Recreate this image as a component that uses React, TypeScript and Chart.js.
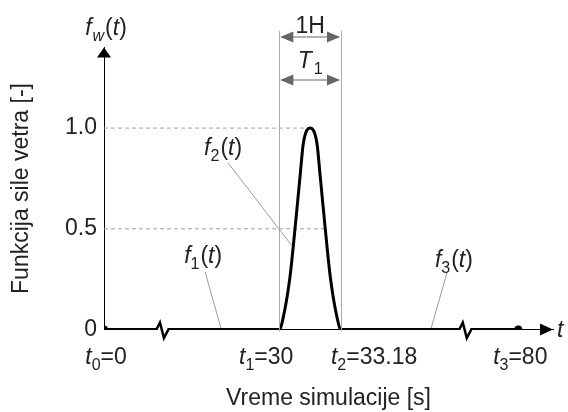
import React, { useEffect, useRef } from 'react';
import { Chart, registerables, LinearScale } from 'chart.js';

const FONT = 'Arial, "Liberation Sans", Helvetica, sans-serif';
const TEXT = '#222';
const FS = 23;

// Wind load function f_w(t): time (s) and value (-)
const T_POINTS = [0, 30, 30.21, 30.55, 30.81, 31.07, 31.24, 31.59, 31.94, 32.11, 32.37, 32.63, 32.97, 33.18, 80];
const F_POINTS = [0, 0, 0.063, 0.26, 0.5, 0.76, 0.925, 1.0, 0.925, 0.76, 0.5, 0.26, 0.063, 0, 0];

// x ticks: t0..t3
const X_TICKS = [0, 30, 33.18, 80];
const X_TICK_INDEX = ['0', '1', '2', '3'];
const X_TICK_TEXT = ['0', '30', '33.18', '80'];

// y ticks
const Y_TICKS = [0, 0.5, 1.0];
const Y_TICK_LABELS = ['0', '0.5', '1.0'];

// dashed reference levels and where they end (t)
const REF_LEVELS = [1.0, 0.5];
const REF_END_T = [31.59, 32.37];

// axis break marks (t)
const AXIS_BREAKS_T = [10, 66];

// segment labels f1, f2, f3 with leader end points on the curve
const SEGMENT_NAMES = ['1', '2', '3'];
const SEGMENT_LEADER_T = [20, 30.64, 57];
const SEGMENT_LEADER_F = [0, 0.41, 0];

// pulse duration label
const PULSE_LABEL = '1H';

// broken axis layout (value -> fraction of axis length)
const BREAK_T = [0, 30, 33.18, 80, 90];
const BREAK_POS = [0, 0.3904, 0.5278, 0.9227, 1];

function toDecimal(v: number): number {
  const n = BREAK_T.length;
  for (let i = 1; i < n; i++) {
    if (v <= BREAK_T[i] || i === n - 1) {
      const a = BREAK_T[i - 1], b = BREAK_T[i];
      return BREAK_POS[i - 1] + ((v - a) / (b - a)) * (BREAK_POS[i] - BREAK_POS[i - 1]);
    }
  }
  return 0;
}
function fromDecimal(d: number): number {
  const n = BREAK_POS.length;
  for (let i = 1; i < n; i++) {
    if (d <= BREAK_POS[i] || i === n - 1) {
      const a = BREAK_POS[i - 1], b = BREAK_POS[i];
      return BREAK_T[i - 1] + ((d - a) / (b - a)) * (BREAK_T[i] - BREAK_T[i - 1]);
    }
  }
  return 0;
}

class BrokenScale extends LinearScale {
  static id = 'broken';
  static defaults = LinearScale.defaults;
  getPixelForValue(value: number) {
    if (value === null || value === undefined) return NaN;
    return this.getPixelForDecimal(toDecimal(value));
  }
  getValueForPixel(pixel: number) {
    return fromDecimal(this.getDecimalForPixel(pixel));
  }
}

Chart.register(...registerables, BrokenScale as any);

type Seg = { text: string; italic?: boolean; sub?: boolean; dx?: number };

function drawRich(ctx: CanvasRenderingContext2D, segs: Seg[], x: number, y: number, align: string, size: number, color: string) {
  const subSize = Math.round(size * 0.68);
  const fontFor = (s: Seg) => `${s.italic ? 'italic ' : ''}${s.sub ? subSize : size}px ${FONT}`;
  const widths = segs.map((s) => { ctx.font = fontFor(s); return ctx.measureText(s.text).width + (s.dx || 0); });
  const total = widths.reduce((a, b) => a + b, 0);
  let cx = align === 'left' ? x : align === 'center' ? x - total / 2 : x - total;
  ctx.fillStyle = color;
  ctx.textAlign = 'left';
  ctx.textBaseline = 'alphabetic';
  segs.forEach((s, i) => {
    ctx.font = fontFor(s);
    ctx.fillText(s.text, cx + (s.dx || 0), y + (s.sub ? size * 0.27 : 0));
    cx += widths[i];
  });
}

function arrowHead(ctx: CanvasRenderingContext2D, tipX: number, tipY: number, dir: string, len: number, half: number) {
  ctx.beginPath();
  ctx.moveTo(tipX, tipY);
  if (dir === 'left') { ctx.lineTo(tipX + len, tipY - half); ctx.lineTo(tipX + len, tipY + half); }
  else if (dir === 'right') { ctx.lineTo(tipX - len, tipY - half); ctx.lineTo(tipX - len, tipY + half); }
  else if (dir === 'up') { ctx.lineTo(tipX - half, tipY + len); ctx.lineTo(tipX + half, tipY + len); }
  ctx.closePath();
  ctx.fill();
}

const schematicPlugin = {
  id: 'schematic',
  afterDatasetsDraw(chart: any) {
    const { ctx, scales } = chart;
    const x = scales.x, y = scales.y;
    const py = y.getPixelForValue(0);
    ctx.save();
    AXIS_BREAKS_T.forEach((t) => {
      const px = x.getPixelForValue(t);
      ctx.fillStyle = '#fff';
      ctx.fillRect(px - 5, py - 2.6, 10, 5.2);
      ctx.strokeStyle = '#000';
      ctx.lineWidth = 2.5;
      ctx.lineJoin = 'miter';
      ctx.beginPath();
      ctx.moveTo(px - 6, py);
      ctx.lineTo(px - 2.5, py - 7);
      ctx.lineTo(px + 1.5, py + 8.5);
      ctx.lineTo(px + 6, py);
      ctx.stroke();
    });
    ctx.restore();
  },
  afterDraw(chart: any) {
    const { ctx, chartArea: ca, scales } = chart;
    const x = scales.x, y = scales.y;
    const x0 = x.getPixelForValue(0);
    const y0 = y.getPixelForValue(0);
    ctx.save();

    // axis arrows
    ctx.fillStyle = '#000';
    arrowHead(ctx, x0, ca.top, 'up', 10, 7);
    arrowHead(ctx, ca.right, y0, 'right', 13, 6);

    // axis symbols
    drawRich(ctx, [{ text: 'f', italic: true }, { text: 'w', italic: true, sub: true, dx: 1 }, { text: '(', dx: 1 }, { text: 't', italic: true }, { text: ')' }], x0 + 2, ca.top - 12.5, 'center', FS, TEXT);
    drawRich(ctx, [{ text: 't', italic: true }], ca.right + 4, y0 + 7.5, 'left', FS, TEXT);

    // pulse boundaries
    const p1 = x.getPixelForValue(X_TICKS[1]);
    const p2 = x.getPixelForValue(X_TICKS[2]);
    ctx.strokeStyle = '#aaa';
    ctx.lineWidth = 1;
    [p1, p2].forEach((p) => {
      ctx.beginPath();
      ctx.moveTo(Math.round(p) + 0.5, ca.top - 16.5);
      ctx.lineTo(Math.round(p) + 0.5, y0 + 2);
      ctx.stroke();
    });

    // dimension arrows
    ctx.strokeStyle = '#666';
    ctx.fillStyle = '#666';
    [ca.top - 10.5, ca.top + 32.5].forEach((ay) => {
      ctx.beginPath();
      ctx.moveTo(p1 + 2, ay);
      ctx.lineTo(p2 - 2, ay);
      ctx.stroke();
      arrowHead(ctx, p1 + 1, ay, 'left', 13, 5.5);
      arrowHead(ctx, p2 - 1, ay, 'right', 13, 5.5);
    });
    const pm = (p1 + p2) / 2;
    drawRich(ctx, [{ text: PULSE_LABEL }], pm, ca.top - 14.5, 'center', FS, TEXT);
    drawRich(ctx, [{ text: 'T', italic: true }, { text: '1', sub: true, dx: 2 }], pm, ca.top + 20.5, 'center', FS, TEXT);

    // leader lines + segment labels
    const startOff = [[-15.7, -57.5], [-63.6, -83.9], [15.7, -56.5]];
    const labelOff = [[-2, -9], [-5, -8], [7, -6]];
    SEGMENT_NAMES.forEach((name, i) => {
      const ex = x.getPixelForValue(SEGMENT_LEADER_T[i]);
      const ey = y.getPixelForValue(SEGMENT_LEADER_F[i]);
      const sx = ex + startOff[i][0];
      const sy = ey + startOff[i][1];
      ctx.strokeStyle = '#9a9a9a';
      ctx.lineWidth = 1;
      ctx.beginPath();
      ctx.moveTo(sx, sy);
      ctx.lineTo(ex, ey - 1.5);
      ctx.stroke();
      drawRich(ctx, [{ text: 'f', italic: true }, { text: name, sub: true }, { text: '(', dx: 1 }, { text: 't', italic: true }, { text: ')' }], sx + labelOff[i][0], sy + labelOff[i][1], 'center', FS, TEXT);
    });

    // x tick labels
    const aligns = ['center', 'right', 'left', 'center'];
    const shifts = [2, 14, -10, 2];
    X_TICKS.forEach((t, i) => {
      const px = x.getPixelForValue(t);
      drawRich(ctx, [{ text: 't', italic: true }, { text: X_TICK_INDEX[i], sub: true }, { text: '=' + X_TICK_TEXT[i] }], px + shifts[i], y0 + 34.5, aligns[i], FS, TEXT);
    });

    ctx.restore();
  },
};

export default function App() {
  const ref = useRef<HTMLCanvasElement | null>(null);
  useEffect(() => {
    if (!ref.current) return;
    Chart.defaults.font.family = FONT;
    Chart.defaults.color = TEXT;
    const curve = T_POINTS.map((t, i) => ({ x: t, y: F_POINTS[i] }));
    const refSets = REF_LEVELS.map((lv, i) => ({
      data: [{ x: 0, y: lv }, { x: REF_END_T[i], y: lv }],
      borderColor: '#a0a0a0',
      borderWidth: 1,
      borderDash: [4, 3],
      pointRadius: 0,
      order: 2,
    }));
    const chart = new Chart(ref.current, {
      type: 'line',
      data: {
        datasets: [
          {
            data: curve,
            borderColor: '#000',
            borderWidth: 3,
            cubicInterpolationMode: 'monotone',
            pointRadius: (c: any) => (c.dataIndex === 0 || c.dataIndex === T_POINTS.length - 1 ? 4 : 0),
            pointBackgroundColor: '#000',
            pointBorderWidth: 0,
            order: 0,
          } as any,
          ...refSets,
        ],
      },
      options: {
        animation: false,
        responsive: false,
        devicePixelRatio: 1,
        events: [],
        layout: { padding: { top: 47.5, right: 15, left: 0, bottom: 0 } },
        plugins: { legend: { display: false }, tooltip: { enabled: false } },
        scales: {
          x: {
            type: 'broken' as any,
            min: 0,
            max: 90,
            grid: { display: false },
            border: { display: true, color: '#000', width: 1 },
            afterBuildTicks: (s: any) => { s.ticks = X_TICKS.map((v) => ({ value: v })); },
            afterFit: (s: any) => { s.height = 82.5; },
            ticks: { display: false },
            title: {
              display: true,
              text: 'Vreme simulacije [s]',
              color: TEXT,
              font: { size: FS, family: FONT },
              padding: { top: 0, bottom: 0 },
            },
          },
          y: {
            type: 'linear',
            min: 0,
            max: 1.4,
            grid: { display: false, drawTicks: false },
            border: { display: true, color: '#000', width: 1 },
            afterBuildTicks: (s: any) => { s.ticks = Y_TICKS.map((v) => ({ value: v })); },
            afterFit: (s: any) => { s.width = 104; },
            ticks: {
              padding: 7,
              color: TEXT,
              font: { size: FS, family: FONT },
              callback: (_v: any, i: number) => Y_TICK_LABELS[i],
            },
            title: {
              display: true,
              text: 'Funkcija sile vetra [-]',
              color: TEXT,
              font: { size: FS, family: FONT },
              padding: { top: 8, bottom: 0 },
            },
          },
        },
      },
      plugins: [schematicPlugin],
    });
    return () => chart.destroy();
  }, []);
  return (
    <div style={{ position: 'absolute', left: 0, top: 0, width: 568, height: 412, background: '#fff' }}>
      <canvas ref={ref} width={568} height={412} />
    </div>
  );
}
